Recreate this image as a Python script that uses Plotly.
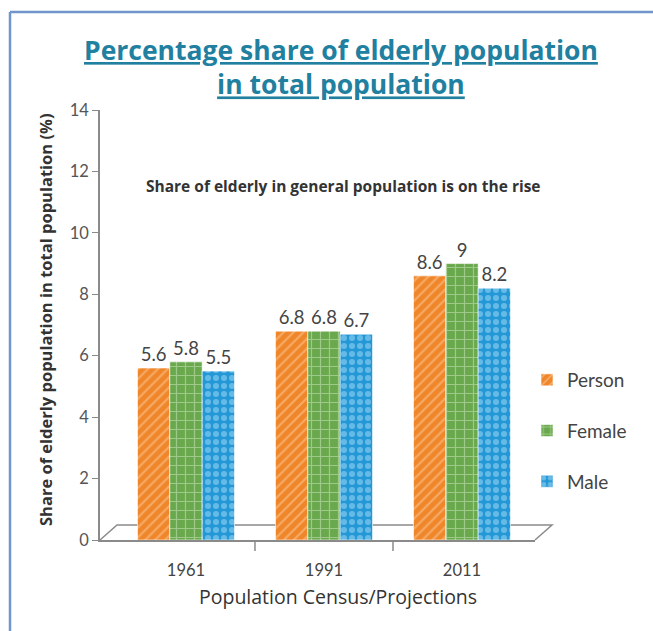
import plotly.graph_objects as go

years = ["1961", "1991", "2011"]
person = [5.6, 6.8, 8.6]
female = [5.8, 6.8, 9]
male = [5.5, 6.7, 8.2]
series_names = ["Person", "Female", "Male"]
y_ticks = [0, 2, 4, 6, 8, 10, 12, 14]

W, H = 653, 631
L, R, T, B = 100, 118, 110, 91
PW, PH = W - L - R, H - T - B


def px(x):
    return (x - L) / PW


def py(y):
    return (H - B - y) / PH


num_font = "Lato"
txt_font = "Open Sans"

styles = [
    dict(color="#f0862a", pattern=dict(shape="/", fgcolor="#fad0a3", bgcolor="#f0862a", size=7, solidity=0.3)),
    dict(color="#69a84c", pattern=dict(shape="+", fgcolor="#d6eac6", bgcolor="#69a84c", size=9, solidity=0.25)),
    dict(color="#2498d6", pattern=dict(shape=".", fgcolor="#a6dcf5", bgcolor="#2498d6", size=8, solidity=0.45)),
]

fig = go.Figure()
for name, vals, st in zip(series_names, [person, female, male], styles):
    fig.add_trace(go.Bar(
        x=years, y=vals, name=name, legendgroup=name,
        marker=dict(color=st["color"], pattern=st["pattern"], line=dict(width=0.6, color="#ffffff")),
        texttemplate="%{y}", textposition="outside", cliponaxis=False,
        textfont=dict(family=num_font, size=18.5, color="#444444"),
    ))

shapes = []
# 3D-like floor
floor = [(L, H - B), (L + 17, H - B - 15), (L + PW + 17, H - B - 15), (L + PW, H - B)]
path = "M {} {} L {} {} L {} {} L {} {}".format(
    px(floor[0][0]), py(floor[0][1]), px(floor[1][0]), py(floor[1][1]),
    px(floor[2][0]), py(floor[2][1]), px(floor[3][0]), py(floor[3][1]))
shapes.append(dict(type="path", path=path, xref="paper", yref="paper",
                   line=dict(color="#8a8a8a", width=1.5), layer="below"))
# category separator ticks
for xb in [0.5, 1.5]:
    shapes.append(dict(type="line", xref="x", yref="paper", x0=xb, x1=xb,
                       y0=0, y1=-11 / PH, line=dict(color="#8a8a8a", width=1.5)))
# frame
shapes.append(dict(type="line", xref="paper", yref="paper", x0=px(10), x1=px(W),
                   y0=py(12), y1=py(12), line=dict(color="#7096cc", width=2.5)))
shapes.append(dict(type="line", xref="paper", yref="paper", x0=px(10), x1=px(10),
                   y0=py(12), y1=py(H), line=dict(color="#7096cc", width=2.5)))

annotations = [
    dict(text="Percentage share of elderly population<br>in total population",
         x=px(341), y=py(67), xref="paper", yref="paper", showarrow=False,
         xanchor="center", yanchor="middle",
         font=dict(family=txt_font, size=26.5, color="#21809f", weight="bold", lineposition="under")),
    dict(text="<b>Share of elderly in general population is on the rise</b>",
         x=px(343), y=py(186), xref="paper", yref="paper", showarrow=False,
         xanchor="center", yanchor="middle",
         font=dict(family=txt_font, size=15.5, color="#333333")),
    dict(text="<b>Share of elderly population in total population (%)</b>",
         x=px(45), y=py(320), xref="paper", yref="paper", showarrow=False, textangle=-90,
         xanchor="center", yanchor="middle",
         font=dict(family=txt_font, size=16.5, color="#333333")),
    dict(text="Population Census/Projections",
         x=px(338), y=py(596), xref="paper", yref="paper", showarrow=False,
         xanchor="center", yanchor="middle",
         font=dict(family=txt_font, size=19.5, color="#333333")),
]

fig.update_layout(
    width=W, height=H, autosize=False,
    margin=dict(l=L, r=R, t=T, b=B, pad=0, autoexpand=False),
    paper_bgcolor="white", plot_bgcolor="rgba(0,0,0,0)",
    barmode="group", bargap=0.297, bargroupgap=0,
    shapes=shapes, annotations=annotations,
    showlegend=True,
    legend=dict(xref="paper", yref="paper", x=px(527), y=py(361),
                xanchor="left", yanchor="top", tracegroupgap=23,
                font=dict(family=num_font, size=19, color="#444444"),
                bgcolor="rgba(0,0,0,0)"),
    xaxis=dict(type="category", range=[-0.623, 2.529], showline=True, linecolor="#8a8a8a",
               linewidth=1.5, ticks="", showgrid=False, zeroline=False,
               tickfont=dict(family=num_font, size=16.5, color="#444444"),
               ticklabelstandoff=14),
    yaxis=dict(range=[0, 14], tickvals=y_ticks, showline=True, linecolor="#8a8a8a",
               linewidth=1.5, ticks="outside", ticklen=6, tickcolor="#8a8a8a",
               showgrid=False, zeroline=False,
               tickfont=dict(family=num_font, size=16.5, color="#555555")),
)

fig.write_html("out.html", config={"responsive": False})
